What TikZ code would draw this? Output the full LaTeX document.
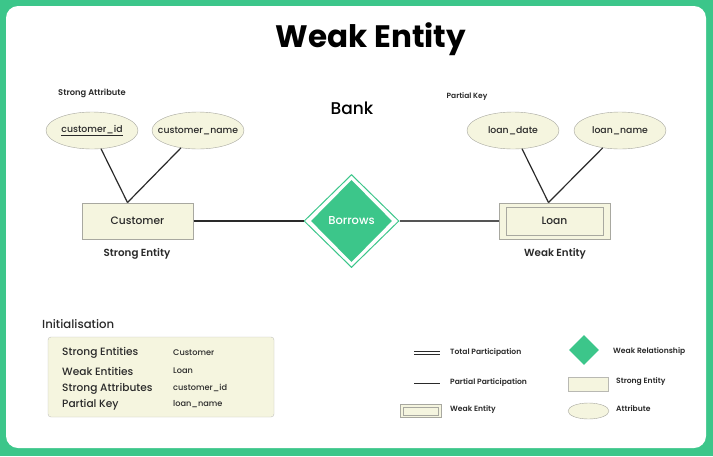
\documentclass[tikz,border=0pt]{standalone}
\usepackage{fontspec}
\setmainfont{Poppins}
\newfontfamily\pmed{Poppins Medium}
\newfontfamily\psemi{Poppins SemiBold}
\usetikzlibrary{shapes.geometric,calc}
\definecolor{gfg}{HTML}{3CC68A}
\definecolor{cream}{HTML}{F5F5DF}
\definecolor{edge}{HTML}{A8A8A0}
\definecolor{ink}{HTML}{2A2A2A}
\tikzset{
  attr/.style={ellipse, draw=edge, fill=cream, minimum width=92pt, minimum height=37pt, inner xsep=-8pt, inner ysep=0pt, font=\pmed\fontsize{9.3}{10}\selectfont, text=ink},
  entbox/.style={rectangle, draw=edge, fill=cream, line width=1pt, inner sep=0pt, font=\pmed\fontsize{10.7}{12}\selectfont, text=ink},
  conn/.style={draw=ink, line width=1.2pt},
  lbl/.style={font=\psemi\fontsize{10.3}{12}\selectfont, text=ink, inner sep=0pt},
  small/.style={font=\psemi\fontsize{7.6}{9}\selectfont, text=ink, inner sep=0pt},
  rowlbl/.style={font=\pmed\fontsize{10.6}{12}\selectfont, text=ink, inner sep=0pt, anchor=west},
  rowval/.style={font=\pmed\fontsize{8.2}{9}\selectfont, text=ink, inner sep=0pt, anchor=west},
}
\begin{document}
\begin{tikzpicture}[x=1pt,y=-1pt]
% frame
\fill[gfg] (0,0) rectangle (713,456);
\fill[white, rounded corners=12pt] (6,6) rectangle (706,448);
\useasboundingbox (0,0) rectangle (713,456);
% title
\node[font=\fontsize{31}{34}\selectfont\bfseries, text=black, anchor=base, inner sep=0pt] (title) at (371,47) {Weak Entity};
\node[font=\pmed\fontsize{17}{20}\selectfont, text=black, anchor=base, inner sep=0pt] (bank) at (352,114) {Bank};
\node[small, font=\psemi\fontsize{8.3}{9}\selectfont] (sattr) at (92,93) {Strong Attribute};
\node[small, font=\psemi\fontsize{7.5}{9}\selectfont] (pkey) at (467,97) {Partial Key};
% attributes
\node[attr] (cid) at (92,130.5) {\underline{customer\_id}};
\node[attr] (cname) at (198,130.5) {customer\_name};
\node[attr] (ldate) at (513,130.5) {loan\_date};
\node[attr] (lname) at (620,130.5) {loan\_name};
% entities
\node[entbox, minimum width=111pt, minimum height=36pt] (cust) at (137.5,221) {Customer};
\node[entbox, minimum width=111pt, minimum height=36pt] (loanO) at (554.5,221) {};
\node[entbox, minimum width=97pt, minimum height=28pt] (loan) at (554.5,221) {Loan};
\node[lbl] (se) at (137,254) {Strong Entity};
\node[lbl] (we) at (555,254) {Weak Entity};
% relationship
\node[diamond, draw=gfg, line width=1pt, minimum width=95pt, minimum height=93pt, inner sep=0pt] (borO) at (351.5,221) {};
\node[diamond, fill=gfg, minimum width=81pt, minimum height=82pt, inner sep=0pt, text=white, font=\pmed\fontsize{11.5}{12}\selectfont] (bor) at (351.5,221) {Borrows};
% joins
\coordinate (cj) at ($(cust.north)+(-10,0)$);
\coordinate (lj) at ($(loanO.north)+(-6,0)$);
\draw[conn] (cid) -- (cj);
\draw[conn] (cname) -- (cj);
\draw[conn] (ldate) -- (lj);
\draw[conn] (lname) -- (lj);
\draw[conn] (cust.east) -- (borO.west);
\draw[draw=ink!80, line width=1.2pt] (borO.east) -- (loanO.west);
% initialisation
\node[font=\pmed\fontsize{11.7}{13}\selectfont, text=ink, anchor=west, inner sep=0pt] (init) at (42,324) {Initialisation};
\node[draw=edge!70, fill=cream, rounded corners=3pt, minimum width=226pt, minimum height=80pt, inner sep=0pt] (ibox) at (161,377) {};
\node[rowlbl] (r1) at (62,353) {Strong Entities};
\node[rowlbl] (r2) at (62,371) {Weak Entities};
\node[rowlbl] (r3) at (62,388.5) {Strong Attributes};
\node[rowlbl] (r4) at (62,404.5) {Partial Key};
\node[rowval] (v1) at (173,352.5) {Customer};
\node[rowval] (v2) at (173,370.5) {Loan};
\node[rowval] (v3) at (173,388) {customer\_id};
\node[rowval] (v4) at (173,404) {loan\_name};
% legend
\coordinate (t1) at (414,351.5); \coordinate (t2) at (440,351.5);
\coordinate (t3) at (414,354.5); \coordinate (t4) at (440,354.5);
\draw[ink, line width=1pt] (t1) -- (t2);
\draw[ink, line width=1pt] (t3) -- (t4);
\node[small, anchor=west] (lt) at (450,353) {Total Participation};
\coordinate (p1) at (414,383); \coordinate (p2) at (440,383);
\draw[ink, line width=1pt] (p1) -- (p2);
\node[small, anchor=west] (lp) at (450,383) {Partial Participation};
\node[draw=edge, fill=cream, minimum width=41pt, minimum height=13pt, inner sep=0pt] (lwO) at (420.5,411) {};
\node[draw=edge, fill=cream, minimum width=35pt, minimum height=8pt, inner sep=0pt] (lwI) at (420.5,411) {};
\node[small, anchor=west] (lw) at (450,410) {Weak Entity};
\node[diamond, fill=gfg, minimum width=30pt, minimum height=30pt, inner sep=0pt] (ld) at (584,350) {};
\node[small, anchor=west] (lr) at (613,352) {Weak Relationship};
\node[draw=edge!80, fill=cream, minimum width=40pt, minimum height=14pt, inner sep=0pt] (ls) at (588,384) {};
\node[small, anchor=west] (lsl) at (616,382) {Strong Entity};
\node[ellipse, draw=edge, fill=cream, minimum width=41pt, minimum height=16pt, inner sep=0pt] (la) at (588.5,411) {};
\node[small, anchor=west] (lal) at (616,409) {Attribute};
\end{tikzpicture}
\end{document}
